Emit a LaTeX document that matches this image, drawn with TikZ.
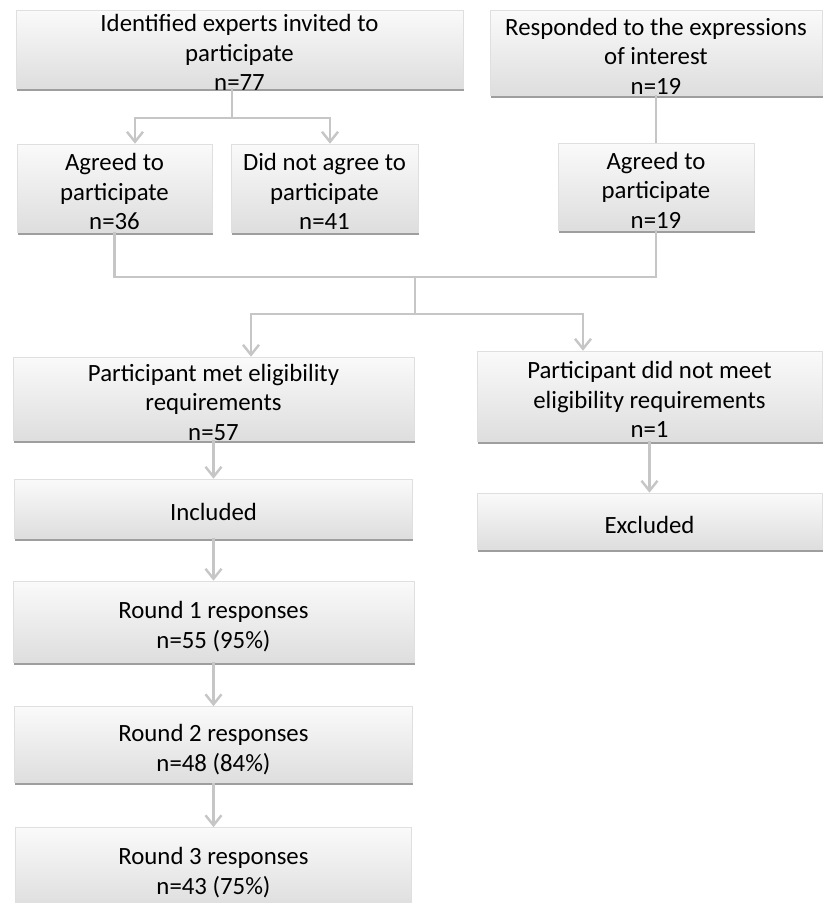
\documentclass[tikz,border=0pt]{standalone}
\usepackage{fontspec}
\setmainfont{Carlito}
\usepackage{tikz}
\usetikzlibrary{arrows.meta,shadows}

\newcommand{\boxlines}[1]{\smash{\raisebox{-12.5pt}{\begin{tabular}{@{}c@{}}#1\end{tabular}}}}

\begin{document}
\begin{tikzpicture}[x=1pt,y=-1pt,node distance=110pt,
	box/.style={rectangle,draw=gray!25,line width=.6pt,top color=gray!4,bottom color=gray!26,
		drop shadow={shadow xshift=.8pt,shadow yshift=-2.5pt,fill=black!38,opacity=1},
		inner sep=0pt,font=\fontsize{24.8}{29.5}\selectfont},
	link/.style={draw=gray!45,line width=2.6pt},
	arr/.style={link,-{Straight Barb[length=10pt,width=16pt,line width=2.4pt]}}]
		\useasboundingbox (0,0) rectangle (824,903);
		\node[box,minimum width=447pt,minimum height=78pt] (invited) at (239.5,49) {\boxlines{Identified experts invited to\\participate\\n=77}};
		\node[box,minimum width=195pt,minimum height=88pt] (agreeA) at (114.5,188) {\boxlines{Agreed to\\participate\\n=36}};
		\node[box,minimum width=187pt,minimum height=88pt] (notagree) at (324.5,188) {\boxlines{Did not agree to\\participate\\n=41}};
		\node[box,minimum width=332pt,minimum height=85pt] (responded) at (656,52.5) {\boxlines{Responded to the expressions\\of interest\\n=19}};
		\node[box,minimum width=196pt,minimum height=87pt] (agreeB) [below of=responded,node distance=134pt] {\boxlines{Agreed to\\participate\\n=19}};
		\node[box,minimum width=401pt,minimum height=83pt] (met) at (213.5,398.5) {\boxlines{Participant met eligibility\\requirements\\n=57}};
		\node[box,minimum width=345pt,minimum height=90pt] (notmet) at (649.5,396) {\boxlines{Participant did not meet\\eligibility requirements\\n=1}};
		\node[box,minimum width=398pt,minimum height=59pt] (included) [below of=met] {\boxlines{Included}};
		\node[box,minimum width=345pt,minimum height=56pt] (excluded) [below of=notmet,node distance=125pt] {\boxlines{Excluded}};
		\node[box,minimum width=401pt,minimum height=81pt] (round1) [below of=included,node distance=113pt] {\boxlines{Round 1 responses\\n=55 (95\%)}};
		\node[box,minimum width=398pt,minimum height=76pt] (round2) [below of=round1,node distance=123pt] {\boxlines{Round 2 responses\\n=48 (84\%)}};
		\node[box,minimum width=396pt,minimum height=80pt] (round3) [below of=round2,node distance=123pt] {\boxlines{Round 3 responses\\n=43 (75\%)}};
		\coordinate (split1) at (232,118);
		\coordinate (join) at (415,277);
		\coordinate (split2) at (415,314);
		\draw[link] (invited.south -| split1) -- (split1);
		\draw[arr] (split1) -| ([xshift=20.5pt]notagree.north -| agreeA.north);
		\draw[arr] (split1) -| ([xshift=5.5pt]notagree.north);
		\draw[link] (responded) -- (agreeB);
		\draw[link] (agreeA.south) |- (join) -| (agreeB.south);
		\draw[link] (join) -- (split2);
		\draw[arr] (split2) -| ([xshift=37.5pt]met.north);
		\draw[arr] (split2) -| ([xshift=-66.5pt]notmet.north);
		\path[arr]
		(met) edge (included)
		(notmet) edge (excluded)
		(included) edge (round1)
		(round1) edge (round2)
		(round2) edge (round3)
		;
\end{tikzpicture}
\end{document}
